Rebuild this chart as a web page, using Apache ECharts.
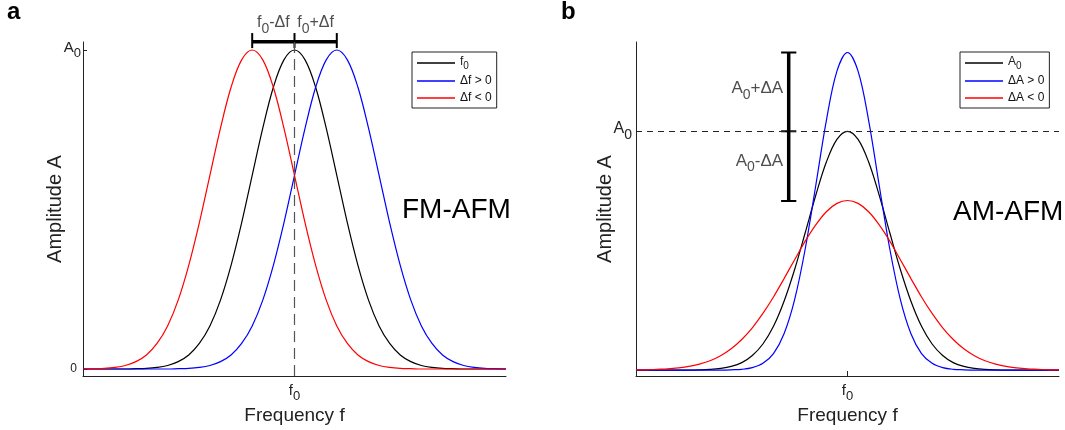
<!DOCTYPE html>
<html><head><meta charset="utf-8">
<script src="https://cdn.jsdelivr.net/npm/echarts@6/dist/echarts.min.js"></script>
<style>html,body{margin:0;padding:0;background:#fff}#c{width:1065px;height:430px}</style>
</head><body><div id="c"></div>
<script>
const FONT = '"Liberation Sans", Arial, sans-serif';
// frequency samples (in linewidth units, f0 = 0)
const freq = [-5,-4.75,-4.5,-4.25,-4,-3.75,-3.5,-3.25,-3,-2.75,-2.5,-2.25,-2,-1.75,-1.5,-1.25,-1,-0.75,-0.5,-0.25,0,0.25,0.5,0.75,1,1.25,1.5,1.75,2,2.25,2.5,2.75,3,3.25,3.5,3.75,4,4.25,4.5,4.75,5];
// panel a : FM-AFM (amplitude relative to A0)
const fmBase  = [0,0,0,0,0,.001,.002,.005,.011,.023,.044,.080,.135,.216,.325,.458,.607,.755,.883,.969,1,.969,.883,.755,.607,.458,.325,.216,.135,.080,.044,.023,.011,.005,.002,.001,0,0,0,0,0];
const fmPlus  = [0,0,0,0,0,0,0,0,0,.001,.002,.005,.011,.023,.044,.080,.135,.216,.325,.458,.607,.755,.883,.969,1,.969,.883,.755,.607,.458,.325,.216,.135,.080,.044,.023,.011,.005,.002,.001,0];
const fmMinus = [0,.001,.002,.005,.011,.023,.044,.080,.135,.216,.325,.458,.607,.755,.883,.969,1,.969,.883,.755,.607,.458,.325,.216,.135,.080,.044,.023,.011,.005,.002,.001,0,0,0,0,0,0,0,0,0];
// panel b : AM-AFM
const amBase  = [0,0,0,0,0,0,.001,.003,.007,.015,.031,.061,.109,.183,.288,.421,.575,.732,.871,.966,1,.966,.871,.732,.575,.421,.288,.183,.109,.061,.031,.015,.007,.003,.001,0,0,0,0,0,0];
const amPlus  = [0,0,0,0,0,0,0,0,0,.001,.003,.010,.028,.069,.152,.295,.507,.773,1.045,1.252,1.33,1.252,1.045,.773,.507,.295,.152,.069,.028,.010,.003,.001,0,0,0,0,0,0,0,0,0];
const amMinus = [.001,.001,.003,.005,.009,.015,.025,.039,.060,.089,.128,.177,.237,.306,.383,.462,.540,.608,.663,.698,.710,.698,.663,.608,.540,.462,.383,.306,.237,.177,.128,.089,.060,.039,.025,.015,.009,.005,.003,.001,.001];
// annotation values
const fmShifts = [-1, 0, 1];          // f0-Δf, f0, f0+Δf
const fmBracketY = 1.026, fmBracketTick = [1.006, 1.053], fmTextY = 1.0775;
const amLevels = [0.708, 1, 1.33];    // A0-ΔA, A0, A0+ΔA
const amBracketX = -1.39, amCapHalf = 0.18;
const amText = [[-1.52, 1.170, 'A0+ΔA'], [-1.52, 0.865, 'A0-ΔA']];
const fmText = [[-0.5, fmTextY, 'f0-Δf'], [0.5, fmTextY, 'f0+Δf']];
const namesA = ['f0', 'Δf > 0', 'Δf < 0'];
const namesB = ['A0', 'ΔA > 0', 'ΔA < 0'];
const yTicksA = [0, 1], yTicksB = [1], xTicks = [0];

const AX = '#222';
const pairs = (xs, ys) => xs.map((x, i) => [x, ys[i]]);
const sub = s => s.replace(/([Af])0/g, '{m|$1}{s|0}').replace(/([+\-]Δ[Af])/g, '{m|$1}');
function rich(m, s, pad) {
  return { m: {fontSize: m, fontFamily: FONT, color: AX, verticalAlign: 'top'},
           s: {fontSize: s, fontFamily: FONT, color: AX, verticalAlign: 'top', padding: [pad, 0, 0, 0]},
           z: {fontSize: 12, fontFamily: FONT, color: AX, padding: [0, 4, 0, 0]} };
}
// bracket segments: [x1, y1, x2, y2, lineWidth]
const fmBracket = [[fmShifts[0], fmBracketY, fmShifts[2], fmBracketY, 3.5]]
  .concat(fmShifts.map(x => [x, fmBracketTick[0], x, fmBracketTick[1], 2]));
const amBracket = [[amBracketX, amLevels[0], amBracketX, amLevels[2], 3.5]]
  .concat(amLevels.map(y => [amBracketX - amCapHalf, y, amBracketX + amCapHalf, y, 2]));

function xAxis(g) {
  return {type: 'value', gridIndex: g, min: -5, max: 5, splitLine: {show: false},
    axisLine: {onZero: false, lineStyle: {color: AX, width: 1}},
    axisTick: {inside: true, length: 5, customValues: xTicks, lineStyle: {color: AX}},
    axisLabel: {customValues: xTicks, margin: 7, formatter: () => '{m|f}{s|0}', rich: rich(15, 13, 7)},
    name: 'Frequency f', nameLocation: 'middle', nameGap: 30, nameMoveOverlap: false,
    nameTextStyle: {fontSize: 19, color: AX, fontFamily: FONT}};
}
function lineS(name, g, ys, color, extra) {
  return Object.assign({name, type: 'line', xAxisIndex: g, yAxisIndex: g, data: pairs(freq, ys),
    showSymbol: false, symbol: 'none', smooth: 0.35, clip: false, z: 3,
    lineStyle: {color, width: 1.2}, itemStyle: {color}}, extra || {});
}
function textS(g, items, pos, size, subSize, pad) {
  return {type: 'scatter', xAxisIndex: g, yAxisIndex: g, symbolSize: 0, clip: false, silent: true,
    data: items.map(t => ({value: [t[0], t[1]], txt: t[2]})),
    label: {show: true, position: pos, distance: 0, formatter: p => sub(p.data.txt),
      rich: rich(size, subSize, pad)}};
}
function bracketS(g, segs) {
  return {type: 'custom', xAxisIndex: g, yAxisIndex: g, clip: false, silent: true, z: 4,
    data: segs, encode: {x: [0, 2], y: [1, 3]},
    renderItem: (params, api) => {
      const a = api.coord([api.value(0), api.value(1)]);
      const b = api.coord([api.value(2), api.value(3)]);
      return {type: 'line', shape: {x1: a[0], y1: a[1], x2: b[0], y2: b[1]},
              style: {stroke: '#000', lineWidth: api.value(4)}};
    }};
}
const legendRich = rich(12, 10, 5);
function legend(names, left) {
  return {data: names, left, top: 52, orient: 'vertical', icon: 'rect', itemWidth: 38, itemHeight: 1.5, itemGap: 3,
    padding: [4, 5, 3, 5], borderColor: AX, borderWidth: 1, backgroundColor: '#fff', selectedMode: false,
    formatter: n => /0$/.test(n) && n.length === 2 ? sub(n) : n,
    textStyle: {fontSize: 12, lineHeight: 14, color: '#111', fontFamily: FONT, rich: legendRich}};
}

const chart = echarts.init(document.getElementById('c'), null, {renderer: 'canvas'});
chart.setOption({
  animation: false,
  backgroundColor: '#fff',
  textStyle: {fontFamily: FONT},
  grid: [{left: 83, right: 559, top: 42, bottom: 53}, {left: 636, right: 6, top: 42, bottom: 53}],
  xAxis: [xAxis(0), xAxis(1)],
  yAxis: [
    {type: 'value', gridIndex: 0, min: -0.022, max: 1.025, splitLine: {show: false},
     axisLine: {show: true, onZero: false, lineStyle: {color: AX, width: 1}},
     axisTick: {show: true, inside: true, length: 4, customValues: yTicksA, lineStyle: {color: AX}},
     axisLabel: {customValues: yTicksA, margin: 2, formatter: v => v === 0 ? '{z|0}' : '{m|A}{s|0}', rich: rich(15, 13, 7)},
     name: 'Amplitude A', nameLocation: 'middle', nameGap: 18, nameMoveOverlap: false,
     nameTextStyle: {fontSize: 20, color: AX, fontFamily: FONT}},
    {type: 'value', gridIndex: 1, min: -0.025, max: 1.374, splitLine: {show: false},
     axisLine: {show: true, onZero: false, lineStyle: {color: AX, width: 1}},
     axisTick: {show: true, inside: true, length: 4, customValues: yTicksB, lineStyle: {color: AX}},
     axisLabel: {customValues: yTicksB, margin: 4, formatter: () => '{m|A}{s|0}', rich: rich(16, 14, 7)},
     name: 'Amplitude A', nameLocation: 'middle', nameGap: 21, nameMoveOverlap: false,
     nameTextStyle: {fontSize: 20, color: AX, fontFamily: FONT}}
  ],
  legend: [legend(namesA, 412), legend(namesB, 960)],
  series: [
    lineS(namesA[0], 0, fmBase, '#000', {markLine: {silent: true, symbol: ['none', 'none'], label: {show: false}, animation: false,
      data: [{xAxis: fmShifts[1], lineStyle: {type: [11, 6], color: '#555', width: 1.2}}]}}),
    lineS(namesA[1], 0, fmPlus, '#0000ff'),
    lineS(namesA[2], 0, fmMinus, '#ff0000'),
    lineS(namesB[0], 1, amBase, '#000', {markLine: {silent: true, symbol: ['none', 'none'], label: {show: false}, animation: false,
      data: [{yAxis: amLevels[1], lineStyle: {type: [6, 5], color: '#222', width: 1}}]}}),
    lineS(namesB[1], 1, amPlus, '#0000ff'),
    lineS(namesB[2], 1, amMinus, '#ff0000'),
    bracketS(0, fmBracket),
    bracketS(1, amBracket),
    textS(0, fmText, 'inside', 16, 14, 7),
    textS(1, amText, 'left', 17, 14, 8)
  ],
  graphic: [
    {type: 'text', x: 7, y: 12, style: {text: 'a', font: 'bold 24px ' + FONT, fill: '#000', verticalAlign: 'middle'}},
    {type: 'text', x: 561, y: 12, style: {text: 'b', font: 'bold 24px ' + FONT, fill: '#000', verticalAlign: 'middle'}},
    {type: 'text', x: 402, y: 210, style: {text: 'FM-AFM', font: '28px ' + FONT, fill: '#000', verticalAlign: 'middle'}},
    {type: 'text', x: 953, y: 212, style: {text: 'AM-AFM', font: '28px ' + FONT, fill: '#000', verticalAlign: 'middle'}}
  ]
});
</script></body></html>
